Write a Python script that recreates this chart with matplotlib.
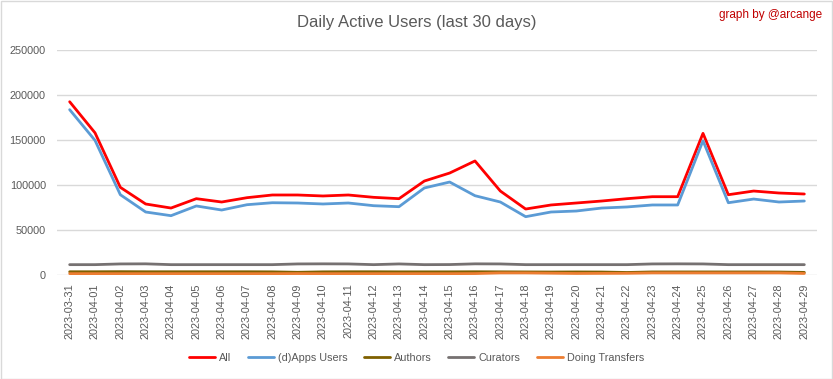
import matplotlib
matplotlib.use("Agg")
import matplotlib.pyplot as plt
from matplotlib.patches import Rectangle

dates = ["2023-03-31"] + [f"2023-04-{d:02d}" for d in range(1, 30)]

all_users = [192500, 158000, 97400, 78900, 74400, 84800, 81100, 85900, 88900, 88900,
             87800, 88900, 86300, 84800, 104400, 113300, 126700, 93300, 73300, 77800,
             80000, 82200, 84800, 87000, 87000, 157400, 89200, 93300, 91100, 90000]
apps_users = [183700, 149600, 89200, 70000, 65900, 76700, 72200, 78100, 80300, 80000,
              78900, 80000, 77000, 75900, 96700, 103300, 88100, 81100, 64800, 70000,
              71100, 74400, 75600, 77800, 77800, 149200, 80300, 84400, 81100, 82200]
authors = [3600, 3600, 3700, 3600, 3600, 3600, 3600, 3600, 3500, 3000,
           3500, 3600, 3600, 3500, 3500, 3500, 3600, 3500, 3400, 3300,
           3400, 3300, 2800, 3400, 3400, 3400, 3400, 3400, 3300, 2900]
curators = [11500, 11500, 12300, 12400, 11500, 11500, 11500, 11500, 11500, 12300,
            12400, 12300, 11500, 12300, 11500, 11600, 12400, 12300, 11500, 11500,
            11500, 11500, 11500, 12300, 12400, 12300, 11500, 11500, 11500, 11500]
transfers = [1500, 1500, 1500, 1500, 1500, 1500, 1500, 1500, 1500, 1600,
             1500, 1500, 1500, 1500, 1500, 1500, 1600, 2300, 2300, 2000,
             1700, 1800, 1900, 2300, 2300, 2300, 2300, 2300, 2300, 1700]

series = [
    ("All", all_users, "#FF0000"),
    ("(d)Apps Users", apps_users, "#5B9BD5"),
    ("Authors", authors, "#7F6000"),
    ("Curators", curators, "#767171"),
    ("Doing Transfers", transfers, "#ED7D31"),
]

plt.rcParams['font.family'] = ['Liberation Sans', 'DejaVu Sans']

fig = plt.figure(figsize=(8.33, 3.79), dpi=100)
fig.patches.append(Rectangle((0.5 / 833, 0.5 / 379), 1 - 1.5 / 833, 1 - 1.5 / 379,
                             transform=fig.transFigure, fill=False,
                             edgecolor="#D9D9D9", linewidth=1))
ax = fig.add_axes([57 / 833, 1 - 275 / 379, 760 / 833, 225 / 379])

x = list(range(len(dates)))
handles = []
for name, vals, col in series:
    (h,) = ax.plot(x, vals, color=col, lw=2.0, label=name, solid_capstyle="round")
    handles.append(h)
ax.set_xlim(-0.5, len(dates) - 0.5)
ax.set_ylim(0, 250000)
ax.set_yticks(range(0, 250001, 50000))
ax.set_yticklabels([str(v) for v in range(0, 250001, 50000)])
ax.set_xticks(x)
ax.set_xticklabels(dates, rotation=90)
ax.grid(axis="y", color="#D9D9D9", lw=1)
ax.set_axisbelow(True)
for s in ax.spines.values():
    s.set_visible(False)
ax.tick_params(axis="both", length=0, colors="#595959", labelsize=7.8)
ax.tick_params(axis="y", pad=8)
ax.tick_params(axis="x", pad=6)

fig.text(0.5, 1 - 22 / 379, "Daily Active Users (last 30 days)", ha="center", va="center",
         fontsize=12, color="#595959")
fig.text(1 - 11 / 833, 1 - 15 / 379, "graph by @arcange", ha="right", va="center",
         fontsize=8.5, color="#C00000")

fig.legend(handles=handles, loc="center", bbox_to_anchor=(0.5, 1 - 358 / 379), ncol=5,
           frameon=False, fontsize=7.8, labelcolor="#595959", handlelength=2.4,
           columnspacing=1.5, handletextpad=0.4)

fig.savefig("out.png", dpi=100)
